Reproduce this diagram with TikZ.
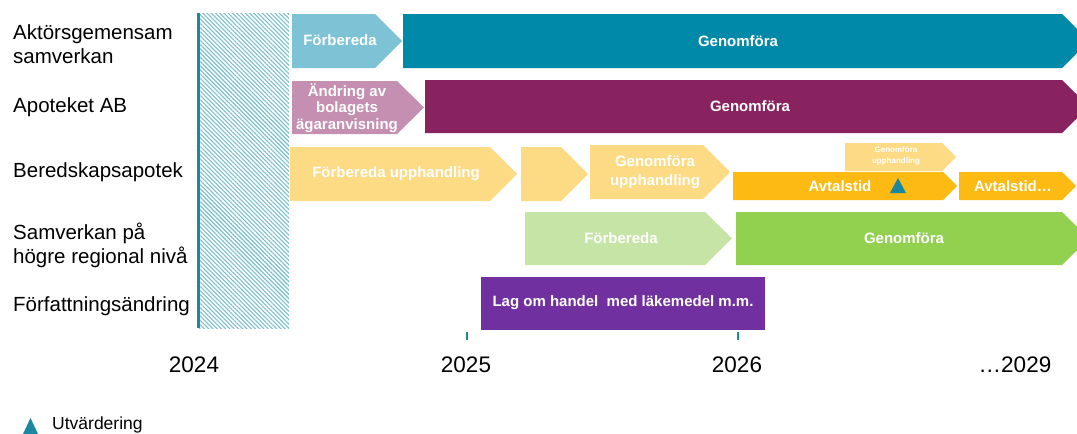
\documentclass[tikz,border=0pt]{standalone}
\usepackage{fontspec}
\setmainfont{Liberation Sans}
\usetikzlibrary{patterns.meta}

\definecolor{tealLight}{RGB}{125,195,213}
\definecolor{tealDark}{RGB}{0,137,168}
\definecolor{mauve}{RGB}{196,143,177}
\definecolor{maroon}{RGB}{137,35,96}
\definecolor{yellowLight}{RGB}{253,219,132}
\definecolor{amber}{RGB}{253,186,18}
\definecolor{greenLight}{RGB}{198,228,166}
\definecolor{greenDark}{RGB}{146,208,80}
\definecolor{lagPurple}{RGB}{112,48,160}
\definecolor{hatchTeal}{RGB}{120,190,202}
\definecolor{axisTeal}{RGB}{27,135,160}

\tikzset{
    rowlabel/.style={anchor=west, align=left, inner sep=0pt, font=\fontsize{20.5}{24}\selectfont},
    bartext/.style={text=white, align=center, inner sep=0pt, font=\bfseries\fontsize{15}{17}\selectfont},
    yearlabel/.style={inner sep=0pt, font=\fontsize{22.5}{26}\selectfont}
}

% color, left x, body end x, tip x, top y, bottom y
\newcommand{\chevron}[6]{%
    \fill[#1] (#2,#5) -- (#3,#5) -- (#4,{(#5+#6)/2}) -- (#3,#6) -- (#2,#6) -- cycle;}

\begin{document}
\begin{tikzpicture}[x=1pt, y=-1pt]
    \useasboundingbox (0,0) rectangle (1077,434);
    \clip (0,0) rectangle (1077,434);

    % hatched 2024 block
    \fill[pattern={Lines[angle=-45, distance=3pt, line width=1.1pt]}, pattern color=hatchTeal] (198,13) rectangle (289,328);
    \draw[axisTeal, line width=3pt] (198,13) -- (198,328);

    % row labels
    \node[rowlabel] (lblAktor) at (13,44) {Aktörsgemensam\\samverkan};
    \node[rowlabel] (lblApoteket) at (13,107) {Apoteket AB};
    \node[rowlabel] (lblBeredskap) at (13,172) {Beredskapsapotek};
    \node[rowlabel] (lblRegional) at (13,245) {Samverkan på\\högre regional nivå};
    \node[rowlabel] (lblForf) at (13,306) {Författningsändring};

    % Aktörsgemensam samverkan
    \chevron{tealLight}{292}{375}{402}{14}{68}
    \chevron{tealDark}{403}{1062}{1089}{14}{68}
    \node[bartext] (aktForb) at (340,40) {Förbereda};
    \node[bartext] (aktGen) at (738,41) {Genomföra};

    % Apoteket AB
    \chevron{mauve}{292}{397}{424}{81}{134}
    \chevron{maroon}{425}{1062}{1089}{80}{133}
    \node[bartext, font=\bfseries\fontsize{15}{16.5}\selectfont] (apoAndr) at (347,108) {Ändring av\\bolagets\\ägaranvisning};
    \node[bartext] (apoGen) at (750,106) {Genomföra};

    % Beredskapsapotek
    \chevron{yellowLight}{290}{490}{517}{147}{201}
    \chevron{yellowLight}{521}{561}{588}{147}{201}
    \chevron{yellowLight}{590}{703}{730}{145}{199}
    \chevron{yellowLight}{845}{942}{956}{143}{171}
    \chevron{amber}{733}{943}{957}{172}{200}
    \chevron{amber}{959}{1062}{1076}{172}{200}
    \node[bartext] (berForb) at (396,174) {Förbereda upphandling};
    \node[bartext, font=\bfseries\fontsize{15}{19}\selectfont] (berGen) at (655,172) {Genomföra\\upphandling};
    \node[bartext, font=\bfseries\fontsize{8}{11}\selectfont] (berGenSmall) at (896,156) {Genomföra\\upphandling};
    \node[bartext] (berAvtal) at (840,186) {Avtalstid};
    \node[bartext] (berAvtalMore) at (1013,186) {Avtalstid…};
    \fill[axisTeal] (890,193) -- (906,193) -- (898,178) -- cycle;

    % Samverkan på högre regional nivå
    \chevron{greenLight}{525}{705}{732}{212}{265}
    \chevron{greenDark}{736}{1062}{1089}{212}{265}
    \node[bartext] (regForb) at (621,238) {Förbereda};
    \node[bartext] (regGen) at (904,238) {Genomföra};

    % Författningsändring
    \fill[lagPurple] (481,277) rectangle (765,330);
    \node[bartext] (forfLag) at (623,303) {Lag om handel\ \ med läkemedel m.m.};

    % time axis
    \draw[axisTeal, line width=2.5pt] (467,332) -- (467,340);
    \draw[axisTeal, line width=2.5pt] (738,332) -- (738,340);
    \node[yearlabel] (y2024) at (194,365) {2024};
    \node[yearlabel] (y2025) at (466,365) {2025};
    \node[yearlabel] (y2026) at (737,365) {2026};
    \node[yearlabel] (y2029) at (1015,365) {…2029};

    % legend
    \fill[axisTeal] (23,434) -- (38,434) -- (30.5,418) -- cycle;
    \node[anchor=base west, inner sep=0pt, font=\fontsize{17.5}{20}\selectfont] (legUtv) at (52,429.5) {Utvärdering};
\end{tikzpicture}
\end{document}
